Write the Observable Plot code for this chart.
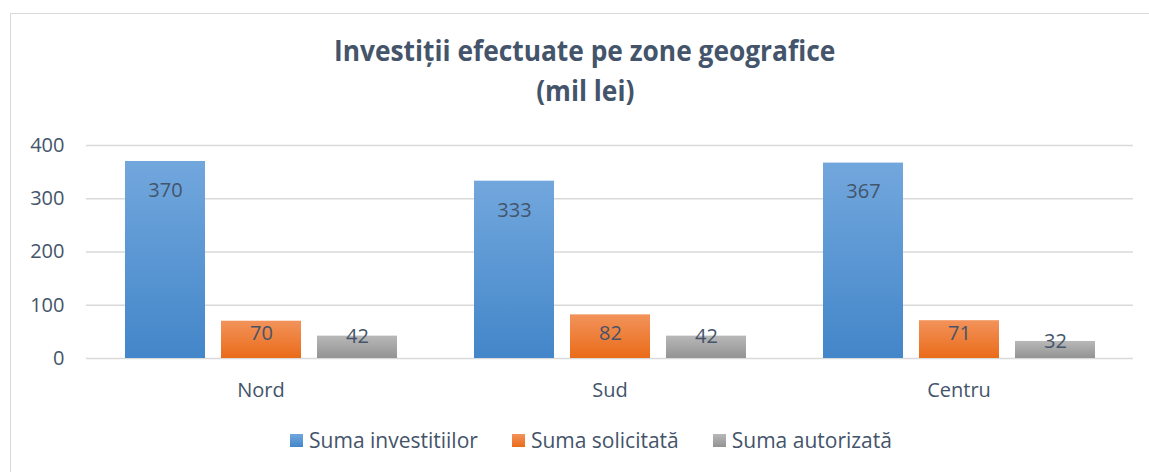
<!DOCTYPE html>
<html>
<head>
<meta charset="utf-8">
<script src="https://cdn.jsdelivr.net/npm/d3@7"></script>
<script src="https://cdn.jsdelivr.net/npm/@observablehq/plot@0.6"></script>
<style>
  html, body { margin: 0; padding: 0; background: #fff; overflow: hidden; }
  body { width: 1149px; height: 472px; position: relative; font-family: "Open Sans", sans-serif; }
  .frame { position: absolute; left: 10px; top: 13px; width: 1150px; height: 470px; border: 1px solid #d9d9d9; box-sizing: border-box; }
  .title { position: absolute; left: 0; top: 30px; width: 1170px; text-align: center; color: #44546A; font-weight: 700; font-size: 28px; line-height: 40px; }
  .title span { display: inline-block; transform: scaleX(0.94); transform-origin: center; }
  #chart { position: absolute; left: 0; top: 120px; }
  .legend { position: absolute; left: 6px; top: 427px; width: 1170px; display: flex; justify-content: center; gap: 34px; color: #44546A; font-size: 21px; line-height: 26px; }
  .legend .item { display: flex; align-items: center; gap: 6px; }
  .legend .sw { width: 13px; height: 13px; display: inline-block; }
</style>
</head>
<body>
<div class="frame"></div>
<div class="title"><span>Investiții efectuate pe zone geografice</span><br><span>(mil lei)</span></div>
<div id="chart"></div>
<div class="legend" id="legend"></div>
<script>
const categories = ["Nord", "Sud", "Centru"];
const series = ["Suma investitiilor", "Suma solicitată", "Suma autorizată"];
const sumaInvestitiilor = [370, 333, 367];
const sumaSolicitata = [70, 82, 71];
const sumaAutorizata = [42, 42, 32];
const yTicks = [0, 100, 200, 300, 400];

const gradients = [
  {id: "gBlue", top: "#72a7dd", bottom: "#4386c9"},
  {id: "gOrange", top: "#f2935b", bottom: "#ea6b19"},
  {id: "gGray", top: "#b8b8b8", bottom: "#939393"}
];

const valuesBySeries = [sumaInvestitiilor, sumaSolicitata, sumaAutorizata];
const data = categories.flatMap((zone, i) =>
  series.map((s, j) => ({zone, series: s, value: valuesBySeries[j][i]}))
);

const plot = Plot.plot({
  width: 1149,
  height: 290,
  marginLeft: 86,
  marginRight: 16,
  marginTop: 25,
  marginBottom: 52,
  style: {fontFamily: "Open Sans", fontSize: "20px", color: "#44546A", background: "transparent"},
  fx: {domain: categories, padding: 0, label: null, axis: "bottom", tickSize: 0, tickPadding: 24},
  x: {domain: series, axis: null, paddingInner: 0.17, paddingOuter: 0.39},
  y: {domain: [0, 400], ticks: yTicks, tickSize: 0, tickPadding: 22, label: null},
  color: {domain: series, range: gradients.map(g => `url(#${g.id})`)},
  marks: [
    Plot.ruleY(yTicks, {stroke: "#d9d9d9", strokeWidth: 1.5}),
    Plot.barY(data, {fx: "zone", x: "series", y: "value", fill: "series"}),
    Plot.text(data.filter(d => d.value > 150), {fx: "zone", x: "series", y: "value", dy: 29, text: d => String(d.value), fill: "#44546A"}),
    Plot.text(data.filter(d => d.value <= 150), {fx: "zone", x: "series", y: d => Math.min(d.value, 47), dy: 0, text: d => String(d.value), fill: "#44546A"})
  ]
});

const svg = d3.select(plot);
const defs = svg.insert("defs", ":first-child");
gradients.forEach(g => {
  const lg = defs.append("linearGradient").attr("id", g.id).attr("x1", 0).attr("y1", 0).attr("x2", 0).attr("y2", 1);
  lg.append("stop").attr("offset", "0%").attr("stop-color", g.top);
  lg.append("stop").attr("offset", "100%").attr("stop-color", g.bottom);
});
document.getElementById("chart").appendChild(plot);

const legend = document.getElementById("legend");
series.forEach((s, j) => {
  const item = document.createElement("div");
  item.className = "item";
  const sw = document.createElement("span");
  sw.className = "sw";
  sw.style.background = `linear-gradient(${gradients[j].top}, ${gradients[j].bottom})`;
  const label = document.createElement("span");
  label.textContent = s;
  item.appendChild(sw);
  item.appendChild(label);
  legend.appendChild(item);
});
</script>
</body>
</html>
